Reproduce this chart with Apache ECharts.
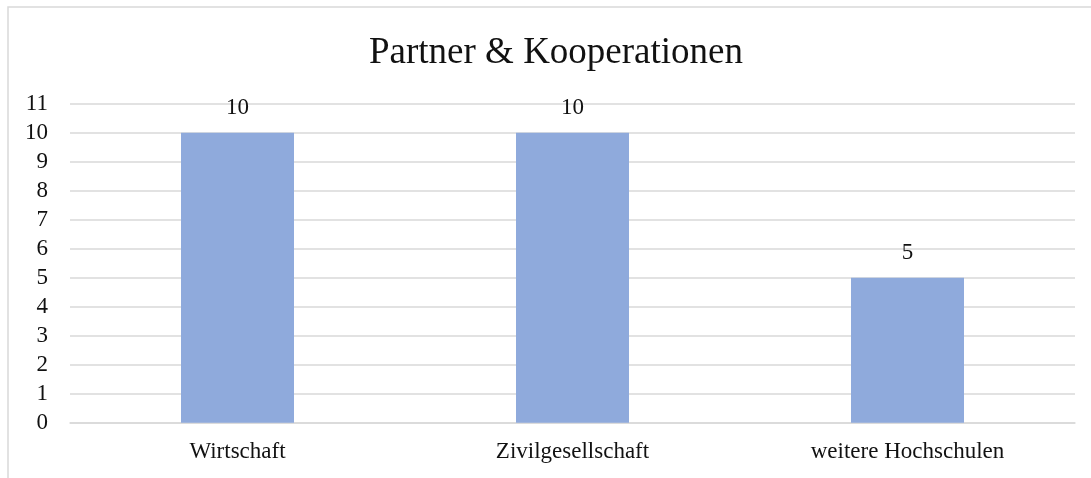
<!DOCTYPE html>
<html>
<head>
<meta charset="utf-8">
<script src="https://cdn.jsdelivr.net/npm/echarts@6/dist/echarts.min.js"></script>
<style>
  html, body { margin: 0; padding: 0; background: #fff; }
  #main { width: 1091px; height: 478px; }
</style>
</head>
<body>
<div id="main"></div>
<script>
var categories = ['Wirtschaft', 'Zivilgesellschaft', 'weitere Hochschulen'];
var values = [10, 10, 5];
var chartTitle = 'Partner & Kooperationen';

var serif = '"Liberation Serif", "Times New Roman", serif';
var chart = echarts.init(document.getElementById('main'));

var option = {
  animation: false,
  title: {
    text: chartTitle,
    left: 551,
    textAlign: 'center',
    top: 30,
    textStyle: { fontFamily: serif, fontSize: 37, fontWeight: 'normal', color: '#111' }
  },
  graphic: [{
    type: 'rect',
    shape: { x: 8, y: 7, width: 1100, height: 500 },
    style: { fill: 'none', stroke: '#D9D9D9', lineWidth: 1.5 },
    silent: true
  }],
  grid: { left: 70, right: 16, top: 103.7, bottom: 55.3, containLabel: false },
  xAxis: {
    type: 'category',
    data: categories,
    axisLine: { show: true, lineStyle: { color: '#D9D9D9', width: 1.5 } },
    axisTick: { show: false },
    axisLabel: { fontFamily: serif, fontSize: 23, color: '#111', margin: 18 }
  },
  yAxis: {
    type: 'value',
    min: 0,
    max: 11,
    interval: 1,
    axisLine: { show: false },
    axisTick: { show: false },
    splitLine: { lineStyle: { color: '#D9D9D9', width: 1.5 } },
    axisLabel: { fontFamily: serif, fontSize: 23, color: '#111', margin: 22 }
  },
  series: [{
    type: 'bar',
    data: values,
    barWidth: 113,
    itemStyle: { color: '#8FAADC' },
    label: {
      show: true,
      position: 'top',
      distance: 13,
      fontFamily: serif,
      fontSize: 23,
      color: '#111'
    }
  }]
};

chart.setOption(option);
</script>
</body>
</html>
